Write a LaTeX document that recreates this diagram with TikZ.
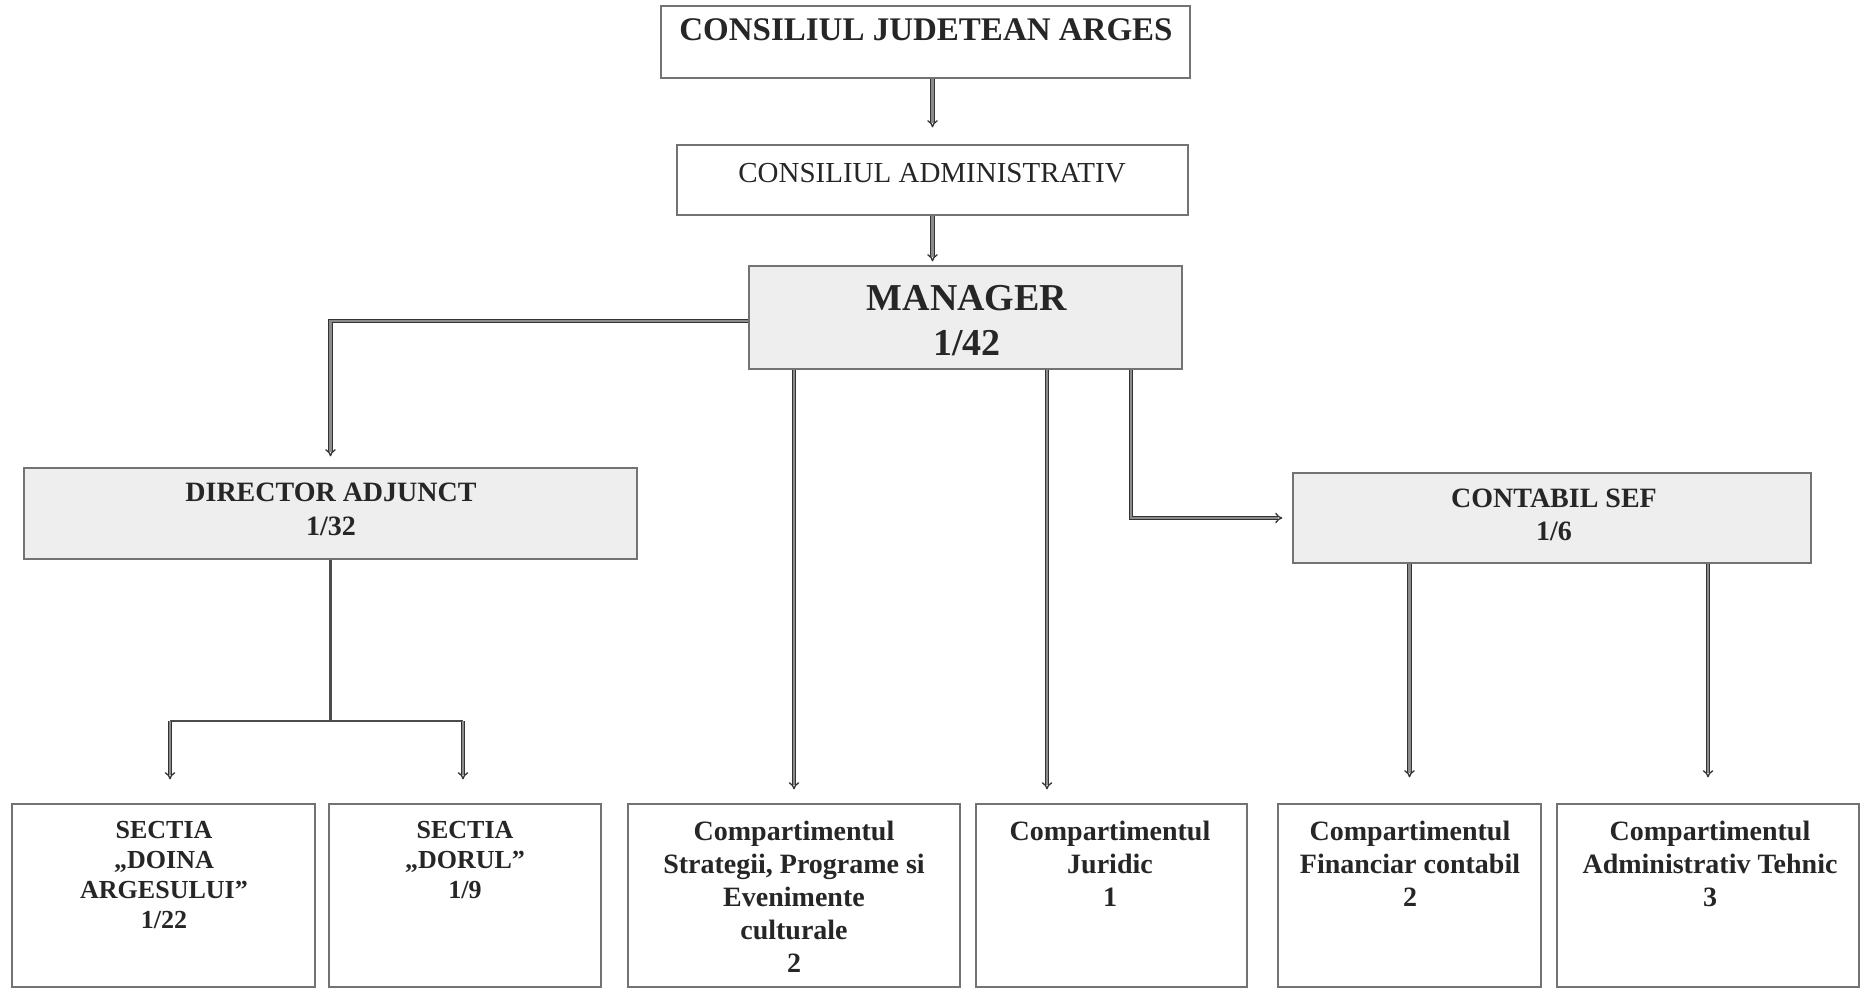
\documentclass[tikz,border=0pt]{standalone}
\usepackage{fontspec}
\setmainfont{Liberation Serif}
\usetikzlibrary{arrows.meta}
\begin{document}
\begin{tikzpicture}[x=1pt,y=-1pt,
  box/.style={draw=black!55, line width=1.3pt, inner sep=0pt, fill=white},
  shaded/.style={box, fill=gray!13},
  txt/.style={inner sep=0pt, anchor=north, align=center, text=black!85},
  link/.style={draw=black!80, double=black!45, double distance=2.2pt, line width=1.3pt},
  thin/.style={draw=black!70, line width=1.4pt},
  arr/.style={link, -{Implies[scale=1.4]}},
]
\useasboundingbox (0,0) rectangle (1862,991);
\fill[white] (0,0) rectangle (1862,991);

% boxes
\node[box, minimum width=529pt, minimum height=72pt] (cja) at (925.5,42) {};
\node[box, minimum width=511pt, minimum height=70pt] (ca) at (932.5,180) {};
\node[shaded, minimum width=433pt, minimum height=103pt] (mgr) at (965.5,317.5) {};
\node[shaded, minimum width=613pt, minimum height=91pt] (da) at (330.5,513.5) {};
\node[shaded, minimum width=518pt, minimum height=90pt] (cs) at (1552,518) {};
\node[box, minimum width=303pt, minimum height=183pt] (b1) at (163.5,895.5) {};
\node[box, minimum width=272pt, minimum height=183pt] (b2) at (465,895.5) {};
\node[box, minimum width=332pt, minimum height=183pt] (b3) at (794,895.5) {};
\node[box, minimum width=271pt, minimum height=183pt] (b4) at (1111.5,895.5) {};
\node[box, minimum width=263pt, minimum height=183pt] (b5) at (1409.5,895.5) {};
\node[box, minimum width=302pt, minimum height=183pt] (b6) at (1708,895.5) {};

% texts
\node[txt, font=\fontsize{33}{38}\selectfont\bfseries] (tcja) at (926,18) {CONSILIUL JUDETEAN ARGES};
\node[txt, font=\fontsize{29}{34}\selectfont] (tca) at (932,163) {CONSILIUL ADMINISTRATIV};
\node[txt, font=\fontsize{38}{45}\selectfont\bfseries] (tmgr) at (967,285) {MANAGER\\1/42};
\node[txt, font=\fontsize{28}{34}\selectfont\bfseries] (tda) at (331,483) {DIRECTOR ADJUNCT\\1/32};
\node[txt, font=\fontsize{28}{33}\selectfont\bfseries] (tcs) at (1554,489) {CONTABIL SEF\\1/6};
\node[txt, font=\fontsize{26}{30}\selectfont\bfseries] (tb1) at (164,821) {SECTIA\\„DOINA\\ARGESULUI”\\1/22};
\node[txt, font=\fontsize{26}{30}\selectfont\bfseries] (tb2) at (465,821) {SECTIA\\„DORUL”\\1/9};
\node[txt, font=\fontsize{28}{33}\selectfont\bfseries] (tb3) at (794,821) {Compartimentul\\Strategii, Programe si\\Evenimente\\culturale\\2};
\node[txt, font=\fontsize{28}{33}\selectfont\bfseries] (tb4) at (1110,821) {Compartimentul\\Juridic\\1};
\node[txt, font=\fontsize{28}{33}\selectfont\bfseries] (tb5) at (1410,821) {Compartimentul\\Financiar contabil\\2};
\node[txt, font=\fontsize{28}{33}\selectfont\bfseries] (tb6) at (1710,821) {Compartimentul\\Administrativ Tehnic\\3};

% helper coordinates
\coordinate (split) at (330.5,721);
\coordinate (s1) at (170,721);
\coordinate (s2) at (463,721);
\coordinate (mx4) at (1047,0);
\coordinate (mx5) at (1131,0);

% connectors
\draw[arr, shorten >=17pt] (cja.south -| ca.north) -- (ca.north);
\draw[arr, shorten >=4pt] (ca.south) -- (ca.south |- mgr.north);
\draw[arr, shorten >=11pt] ([yshift=-3.5pt]mgr.west) -| (da.north);
\draw[thin, line width=2.8pt] (da.south) -- (split);
\draw[thin] (s1) -- (s2);
\draw[arr, shorten >=24pt] (s1) -- (s1 |- b1.north);
\draw[arr, shorten >=24pt] (s2) -- (s2 |- b2.north);
\draw[arr, shorten >=14pt] (mgr.south -| b3.north) -- (b3.north);
\draw[arr, shorten >=14pt] (mgr.south -| mx4) -- (b4.north -| mx4);
\draw[arr, shorten >=10pt] (mgr.south -| mx5) |- (cs.west);
\draw[arr, shorten >=26pt] (cs.south -| b5.north) -- (b5.north);
\draw[arr, shorten >=26pt] (cs.south -| b6.north) -- (b6.north);
\end{tikzpicture}
\end{document}
